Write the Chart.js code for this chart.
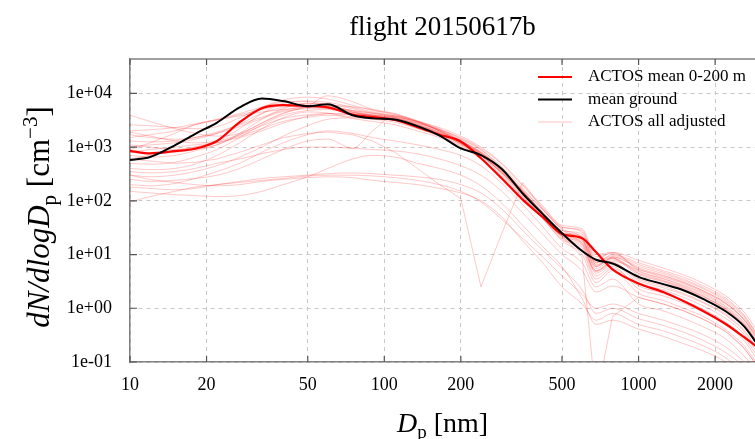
<!DOCTYPE html>
<html>
<head>
<meta charset="utf-8">
<script src="https://cdn.jsdelivr.net/npm/chart.js@4.4.1/dist/chart.umd.min.js"></script>
<style>
  html, body { margin: 0; padding: 0; background: #fff; }
  #wrap { width: 755px; height: 439px; }
</style>
</head>
<body>
<div id="wrap"><canvas id="sizeDist" width="755" height="439"></canvas></div>
<script>
// particle diameter bins [nm]
const diameters = [10, 12, 15, 18, 22, 27, 33, 40, 50, 60, 75, 90, 110, 135, 165, 200, 240, 290, 350, 420, 500, 600, 680, 790, 1000, 1250, 1500, 1800, 2200, 2600, 2900];

const actosMean = [853, 764, 840, 930, 1300, 2900, 5300, 6050, 5800, 5480, 4030, 3620, 3190, 2350, 1700, 1270, 620, 260, 105, 49.7, 24.1, 20.2, 11.1, 5.3, 2.9, 2.0, 1.36, 0.88, 0.51, 0.29, 0.197];
const groundMean = [573, 652, 1080, 1750, 2860, 5480, 8000, 7190, 5750, 6240, 3900, 3420, 3250, 2450, 1640, 946, 710, 390, 137, 56.5, 25, 11.6, 8.0, 6.8, 3.85, 2.81, 2.17, 1.48, 0.88, 0.46, 0.23];

// single ACTOS profiles (adjusted)
const actosAll = [
  [2600, 2500, 2300, 2200, 2400, 3500, 5500, 7500, 8500, 7800, 6000, 4800, 4000, 3000, 2100, 1300, 800, 400, 160, 70, 32, 28, 8, 11, 7.8, 5.6, 4.2, 2.9, 1.7, 0.85, 0.4],
  [1500, 1700, 2000, 2600, 3200, 4000, 5000, 6000, 6500, 6200, 5200, 4300, 3600, 2700, 1900, 1200, 750, 360, 150, 62, 28, 24, 7, 10, 7.0, 5.0, 3.8, 2.6, 1.55, 0.75, 0.35],
  [1100, 1000, 900, 1000, 1300, 2200, 4200, 6500, 7200, 6800, 5500, 4500, 3800, 2900, 2100, 1400, 880, 430, 170, 68, 30, 20, 6, 9, 6.0, 4.4, 3.3, 2.3, 1.35, 0.68, 0.32],
  [700, 650, 700, 850, 1100, 1700, 2800, 4300, 5500, 6000, 5600, 5000, 4200, 3100, 2200, 1450, 900, 400, 150, 60, 25, 16, 5, 7.5, 5.2, 3.8, 2.9, 2.0, 1.2, 0.6, 0.28],
  [900, 1200, 1800, 2600, 3200, 3800, 4500, 5000, 5500, 5200, 4400, 3800, 3400, 2800, 2100, 1500, 950, 480, 190, 75, 33, 26, 9, 10.5, 5.4, 4.0, 3.0, 2.1, 1.25, 0.62, 0.3],
  [500, 480, 520, 650, 900, 1500, 2600, 3900, 4800, 5000, 4300, 3900, 3500, 2600, 1800, 1150, 700, 330, 130, 55, 22, 15, 4.5, 6.5, 3.0, 2.2, 1.6, 1.1, 0.65, 0.33, 0.16],
  [1900, 1600, 1300, 1200, 1300, 1700, 2500, 3400, 4000, 4200, 4100, 3900, 3600, 3000, 2300, 1600, 1000, 500, 200, 80, 35, 30, 10, 11, 5.0, 3.6, 2.7, 1.9, 1.1, 0.55, 0.26],
  [400, 380, 400, 480, 700, 1200, 2200, 3500, 4500, 4300, 3400, 3000, 2600, 2000, 1500, 1000, 600, 280, 115, 46, 19, 12, 3.5, 5.5, 2.6, 1.9, 1.4, 0.95, 0.55, 0.28, 0.14],
  [3900, 3000, 2200, 1800, 1600, 1800, 2800, 4200, 5800, 9000, 7000, 5000, 4100, 3000, 2000, 1250, 760, 370, 150, 60, 26, 22, 7.5, 9.5, 6.5, 4.7, 3.5, 2.4, 1.45, 0.72, 0.34],
  [300, 280, 300, 350, 450, 650, 1000, 1600, 2500, 3300, 3500, 3300, 2900, 2200, 1600, 1050, 650, 300, 120, 50, 20, 13, 4, 6, 2.3, 1.7, 1.25, 0.85, 0.5, 0.25, 0.12],
  [250, 230, 240, 260, 300, 400, 600, 900, 1300, 1400, 950, 2000, 3800, 3000, 2000, 1200, 700, 320, 125, 48, 18, 10, 3, 5, 1.9, 1.4, 1.0, 0.7, 0.4, 0.2, 0.1],
  [95, 120, 150, 180, 200, 220, 240, 260, 290, 300, 300, 290, 270, 240, 200, 150, 95, 45, 20, 9, 4, 1.8, 1.0, 1.2, 0.8, 0.6, 0.45, 0.32, 0.19, 0.1, 0.05],
  [180, 170, 160, 170, 200, 230, 260, 280, 300, 320, 330, 320, 300, 280, 250, 200, 140, 70, 28, 12, 5.5, 2.2, 0.8, 1.0, 0.64, 0.48, 0.36, 0.25, 0.15, 0.08, 0.04],
  [300, 250, 220, 200, 190, 200, 230, 250, 270, 280, 270, 240, 220, 200, 170, 140, 100, 50, 18, 7, 2.5, 1.2, 0.6, 0.8, 0.5, 0.38, 0.28, 0.2, 0.12, 0.06, 0.03],
  [150, 140, 130, 125, 120, 125, 150, 200, 280, 400, 600, 700, 650, 500, 400, 300, 190, 90, 35, 14, 6, 1.5, 0.5, 0.6, 0.41, 0.3, 0.22, 0.16, 0.1, 0.05, 0.025],
  [600, 550, 500, 520, 600, 800, 1100, 1500, 1800, 1900, 1700, 1300, 800, 400, 200, 110, 2.5, 25, 220, 70, 28, 20, 6, 9, 4.5, 3.3, 2.5, 1.7, 1.0, 0.5, 0.24],
  [800, 900, 1000, 1100, 1200, 1500, 2000, 2800, 3800, 4200, 4000, 3600, 3200, 2400, 1700, 1100, 700, 340, 135, 55, 22, 9, 0.02, 0.7, 1.6, 1.2, 0.9, 0.62, 0.37, 0.18, 0.09],
  [1300, 1250, 1300, 1500, 1900, 2600, 3600, 4800, 5600, 5600, 4800, 4200, 3700, 2800, 2000, 1300, 820, 390, 150, 58, 24, 18, 5.5, 8, 4.2, 3.1, 2.3, 1.6, 0.95, 0.47, 0.22],
  [2000, 2100, 2300, 2700, 3300, 4200, 5600, 6800, 7000, 6000, 4500, 3800, 3300, 2500, 1800, 1150, 700, 330, 140, 52, 21, 14, 4.8, 7, 3.5, 2.6, 1.9, 1.3, 0.78, 0.39, 0.19],
  [600, 700, 850, 1000, 1200, 1600, 2200, 3000, 3600, 3900, 3700, 3500, 3200, 2600, 1900, 1250, 780, 380, 155, 58, 23, 17, 6, 8.5, 4.8, 3.5, 2.6, 1.8, 1.05, 0.52, 0.25],
  [350, 330, 350, 400, 500, 600, 750, 900, 1000, 1000, 950, 900, 850, 750, 600, 450, 300, 150, 60, 24, 10, 5, 2, 2.6, 1.6, 1.2, 0.9, 0.62, 0.37, 0.18, 0.09],
  [200, 190, 210, 260, 350, 500, 800, 1200, 1700, 2000, 1800, 1500, 1300, 1100, 900, 700, 450, 210, 85, 33, 13, 7, 2.5, 3.5, 1.2, 0.9, 0.65, 0.45, 0.27, 0.13, 0.07],
  [1000, 1100, 1200, 1400, 1800, 2700, 4200, 5500, 6000, 5500, 4500, 4000, 3500, 2600, 1850, 1200, 740, 340, 140, 55, 24, 19, 6.5, 8.5, 4.4, 3.2, 2.4, 1.65, 0.98, 0.5, 0.24],
  [1700, 1500, 1400, 1500, 1800, 2400, 3400, 4600, 5200, 5300, 4800, 4300, 3800, 2900, 2000, 1300, 780, 370, 145, 57, 25, 21, 7, 9, 5.6, 4.1, 3.1, 2.1, 1.25, 0.62, 0.3],
  [800, 750, 800, 900, 1100, 1800, 3300, 5200, 6400, 6000, 4700, 3900, 3300, 2500, 1750, 1150, 720, 350, 140, 54, 22, 16, 5, 7, 3.3, 2.4, 1.8, 1.25, 0.74, 0.37, 0.18]
];
// profiles with sharp spikes are drawn with straight segments
const spikyProfiles = [15, 16];

const xTicks = [10, 20, 50, 100, 200, 500, 1000, 2000];
const yTicks = [0.1, 1, 10, 100, 1000, 10000];
const yTickLabels = ['1e-01', '1e+00', '1e+01', '1e+02', '1e+03', '1e+04'];
const legendLabels = ['ACTOS mean 0-200 m', 'mean ground', 'ACTOS all adjusted'];

const SERIF = '"Liberation Serif", "DejaVu Serif", serif';
const RED = '#ff0000';
const BLACK = '#000000';
const PINK = 'rgba(255, 0, 0, 0.22)';
const LEGEND_PINK = '#ffc4c4';

function toPoints(values) {
  return diameters.map((d, i) => ({ x: d, y: values[i] }));
}

const datasets = [
  { label: legendLabels[1], data: toPoints(groundMean), borderColor: BLACK, borderWidth: 2, order: 0 },
  { label: legendLabels[0], data: toPoints(actosMean), borderColor: RED, borderWidth: 2.2, order: 1 }
];
actosAll.forEach((vals, i) => {
  const spiky = spikyProfiles.includes(i);
  datasets.push({
    label: legendLabels[2] + ' ' + i,
    data: toPoints(vals),
    borderColor: PINK,
    borderWidth: 1,
    order: 2,
    cubicInterpolationMode: spiky ? 'default' : 'monotone',
    tension: 0
  });
});

// mixed text: [text, size, italic, dy]
function drawRich(ctx, parts, cx, y) {
  const fontOf = p => (p[2] ? 'italic ' : '') + p[1] + 'px ' + SERIF;
  let total = 0;
  parts.forEach(p => { ctx.font = fontOf(p); total += ctx.measureText(p[0]).width; });
  let x = cx - total / 2;
  parts.forEach(p => {
    ctx.font = fontOf(p);
    ctx.fillText(p[0], x, y + p[3]);
    x += ctx.measureText(p[0]).width;
  });
}

const framePlugin = {
  id: 'frame',
  afterDraw(chart) {
    const { ctx, chartArea: a, scales: { x, y } } = chart;
    ctx.save();
    // top border
    ctx.strokeStyle = '#808080';
    ctx.lineWidth = 1.5;
    ctx.beginPath();
    ctx.moveTo(a.left, a.top);
    ctx.lineTo(a.right, a.top);
    ctx.stroke();

    // inward tick marks
    ctx.strokeStyle = '#555';
    ctx.lineWidth = 1.2;
    ctx.beginPath();
    xTicks.forEach(v => {
      const px = x.getPixelForValue(v);
      ctx.moveTo(px, a.bottom); ctx.lineTo(px, a.bottom - 6);
      ctx.moveTo(px, a.top); ctx.lineTo(px, a.top + 6);
    });
    yTicks.forEach(v => {
      const py = y.getPixelForValue(v);
      ctx.moveTo(a.left, py); ctx.lineTo(a.left + 7, py);
    });
    ctx.stroke();

    // axis titles
    ctx.fillStyle = '#000';
    ctx.textBaseline = 'alphabetic';
    ctx.textAlign = 'left';
    const midX = (a.left + a.right) / 2;
    drawRich(ctx, [['D', 28, true, 0], ['p', 19, false, 6], [' [nm]', 28, false, 0]], midX, 432);

    ctx.save();
    ctx.translate(49, 217);
    ctx.rotate(-Math.PI / 2);
    drawRich(ctx, [
      ['dN/dlogD', 31, true, 0], ['p', 21, false, 7], [' [cm', 31, false, 0],
      ['\u22123', 21, false, -12], [']', 31, false, 0]
    ], 0, 0);
    ctx.restore();

    // legend
    const rows = [
      [legendLabels[0], RED, 2.2],
      [legendLabels[1], BLACK, 2],
      [legendLabels[2], LEGEND_PINK, 1.2]
    ];
    ctx.font = '17px ' + SERIF;
    ctx.textBaseline = 'middle';
    rows.forEach((r, i) => {
      const ry = 77 + i * 22.5;
      ctx.strokeStyle = r[1];
      ctx.lineWidth = r[2];
      ctx.beginPath();
      ctx.moveTo(538, ry);
      ctx.lineTo(572, ry);
      ctx.stroke();
      ctx.fillStyle = '#000';
      ctx.fillText(r[0], 588, ry);
    });
    ctx.restore();
  }
};

new Chart(document.getElementById('sizeDist'), {
  type: 'line',
  data: { datasets },
  options: {
    responsive: false,
    animation: false,
    devicePixelRatio: 1,
    layout: { padding: 0 },
    elements: {
      point: { radius: 0, hoverRadius: 0 },
      line: { cubicInterpolationMode: 'monotone' }
    },
    plugins: {
      legend: { display: false },
      tooltip: { enabled: false },
      title: {
        display: true,
        text: 'flight 20150617b',
        fullSize: false,
        color: '#000',
        font: { family: SERIF, size: 27, weight: 'normal', lineHeight: 1.2 },
        padding: { top: 12, bottom: 14.6 }
      }
    },
    scales: {
      x: {
        type: 'logarithmic',
        min: 10,
        max: 2870,
        afterBuildTicks: s => { s.ticks = xTicks.map(v => ({ value: v })); },
        afterFit: s => { s.height = 77; },
        ticks: {
          autoSkip: false,
          maxRotation: 0,
          padding: 12,
          color: '#000',
          font: { family: SERIF, size: 18 },
          callback: v => String(v)
        },
        grid: { color: '#c8c8c8', lineWidth: 1, drawTicks: false },
        border: { color: '#808080', width: 1.5, dash: [4, 4] }
      },
      y: {
        type: 'logarithmic',
        min: 0.1,
        max: 43550,
        afterBuildTicks: s => { s.ticks = yTicks.map(v => ({ value: v })); },
        afterFit: s => { s.width = 130; },
        ticks: {
          autoSkip: false,
          padding: 18,
          color: '#000',
          font: { family: SERIF, size: 18 },
          callback: v => {
            const i = yTicks.indexOf(v);
            return i >= 0 ? yTickLabels[i] : '';
          }
        },
        grid: { color: '#c8c8c8', lineWidth: 1, drawTicks: false },
        border: { color: '#808080', width: 1.5, dash: [4, 4] }
      }
    }
  },
  plugins: [framePlugin]
});
</script>
</body>
</html>
